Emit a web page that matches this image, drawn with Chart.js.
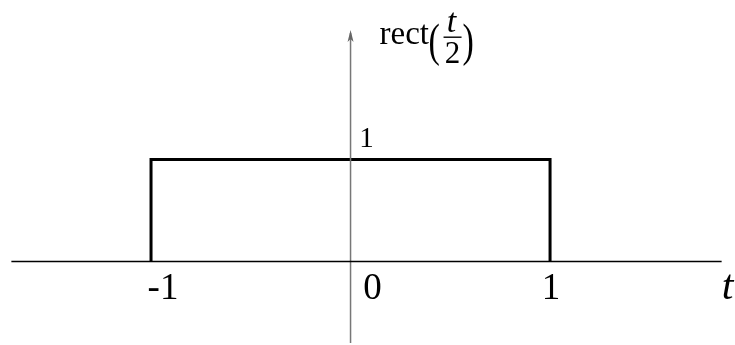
<!DOCTYPE html>
<html>
<head>
<meta charset="utf-8">
<script src="https://cdn.jsdelivr.net/npm/chart.js@4.4.1/dist/chart.umd.min.js"></script>
<style>
  html, body { margin: 0; padding: 0; background: #fff; }
  #wrap { width: 735px; height: 345px; position: relative; }
</style>
</head>
<body>
<div id="wrap"><canvas id="Chart"></canvas></div>
<script>
// rect(t/2): 1 for |t| <= 1, 0 otherwise
const rectT = [-1, -1, 1, 1];
const rectY = [0, 1, 1, 0];

// axis extents (t and amplitude)
const xAxisT = [-1.70, 1.86];
const yAxisV = [-0.80, 2.24];

// tick labels on the t axis and on the amplitude axis
const tTicks = [-1, 0, 1];
const tTickLabels = ["-1", "0", "1"];
const yTicks = [1];
const yTickLabels = ["1"];

const X_MIN = -1.757, X_MAX = 1.927;
const Y_MIN = -0.819, Y_MAX = 2.564;

const SERIF = '"Liberation Serif", "DejaVu Serif", serif';

// tall, thin bracket: draw the glyph stretched vertically
function tallGlyph(ctx, ch, x, baseline, size, stretch) {
  ctx.save();
  ctx.translate(x, baseline);
  ctx.scale(1, stretch);
  ctx.font = size + "px " + SERIF;
  ctx.fillText(ch, 0, 0);
  ctx.restore();
}

const annotations = {
  id: "annotations",
  afterDatasetsDraw(chart) {
    const ctx = chart.ctx;
    const xs = chart.scales.x;
    const ys = chart.scales.y;
    const x0 = xs.getPixelForValue(0);
    const yTop = ys.getPixelForValue(yAxisV[1]);

    ctx.save();
    // arrow head on the vertical axis
    ctx.fillStyle = "#666";
    ctx.beginPath();
    ctx.moveTo(x0, yTop - 3);
    ctx.lineTo(x0 - 3, yTop + 9);
    ctx.lineTo(x0, yTop + 6);
    ctx.lineTo(x0 + 3, yTop + 9);
    ctx.closePath();
    ctx.fill();

    ctx.fillStyle = "#000";
    ctx.textAlign = "center";
    ctx.textBaseline = "alphabetic";

    // t-axis tick labels
    const dx = [12, 22, 1];
    ctx.font = "37px " + SERIF;
    tTicks.forEach((v, i) => {
      ctx.fillText(tTickLabels[i], xs.getPixelForValue(v) + dx[i], ys.getPixelForValue(0) + 38);
    });

    // amplitude tick label
    ctx.font = "29px " + SERIF;
    yTicks.forEach((v, i) => {
      ctx.fillText(yTickLabels[i], x0 + 16, ys.getPixelForValue(v) - 12);
    });

    // axis name t
    ctx.font = "italic 42px " + SERIF;
    ctx.fillText("t", xs.getPixelForValue(xAxisT[1]) + 6, ys.getPixelForValue(0) + 38);

    // rect(t/2)
    ctx.textAlign = "left";
    ctx.font = "33px " + SERIF;
    ctx.fillText("rect", x0 + 29, 44);
    tallGlyph(ctx, "(", x0 + 78, 56, 34, 1.35);
    tallGlyph(ctx, ")", x0 + 112, 56, 34, 1.35);
    ctx.textAlign = "center";
    ctx.font = "italic 34px " + SERIF;
    ctx.fillText("t", x0 + 101, 32);
    ctx.font = "31px " + SERIF;
    ctx.fillText("2", x0 + 102, 63);
    ctx.fillRect(x0 + 93, 36.5, 18, 1.4);
    ctx.restore();
  }
};

const ctx = document.getElementById("Chart");

new Chart(ctx, {
  type: "scatter",
  data: {
    datasets: [
      {
        // horizontal t axis
        data: xAxisT.map((t) => ({ x: t, y: 0 })),
        showLine: true,
        borderColor: "#000",
        borderWidth: 1.4,
        pointRadius: 0,
      },
      {
        // vertical axis
        data: yAxisV.map((v) => ({ x: 0, y: v })),
        showLine: true,
        borderColor: "#777",
        borderWidth: 1.5,
        pointRadius: 0,
      },
      {
        data: rectT.map((t, i) => ({ x: t, y: rectY[i] })),
        showLine: true,
        borderColor: "#000",
        borderWidth: 3,
        borderJoinStyle: "miter",
        pointRadius: 0,
        tension: 0,
      },
    ],
  },
  options: {
    responsive: true,
    maintainAspectRatio: false,
    animation: false,
    layout: { padding: 0 },
    plugins: {
      legend: { display: false },
      tooltip: { enabled: false },
    },
    scales: {
      x: { type: "linear", min: X_MIN, max: X_MAX, display: false },
      y: { type: "linear", min: Y_MIN, max: Y_MAX, display: false },
    },
  },
  plugins: [annotations],
});
</script>
</body>
</html>
